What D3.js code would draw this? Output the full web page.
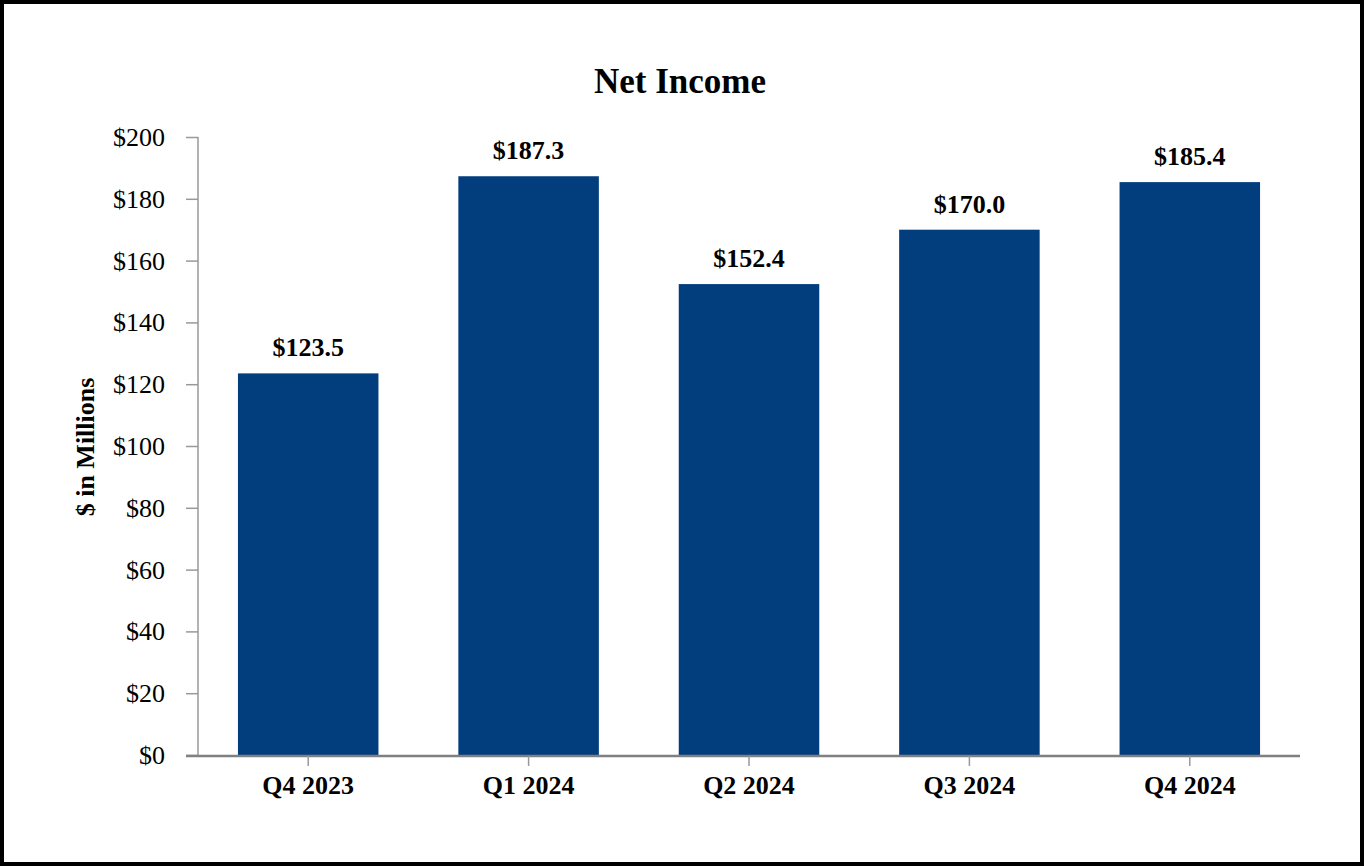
<!DOCTYPE html>
<html>
<head>
<meta charset="utf-8">
<script src="https://cdn.jsdelivr.net/npm/d3@7"></script>
<style>
html,body{margin:0;padding:0;background:#fff;}
svg{display:block;}
text{font-family:"Liberation Serif","Times New Roman",serif;fill:#000;}
</style>
</head>
<body>
<svg id="chart" width="1364" height="866"></svg>
<script>
const categories = ["Q4 2023","Q1 2024","Q2 2024","Q3 2024","Q4 2024"];
const values = [123.5, 187.3, 152.4, 170.0, 185.4];
const valueLabels = ["$123.5","$187.3","$152.4","$170.0","$185.4"];
const yTicks = [0,20,40,60,80,100,120,140,160,180,200];
const title = "Net Income";
const yTitle = "$ in Millions";

const svg = d3.select("#chart");
const W = 1364, H = 866;

svg.append("rect").attr("x",2).attr("y",2).attr("width",W-4).attr("height",H-4)
  .attr("fill","#fff").attr("stroke","#000").attr("stroke-width",4);

const x = d3.scaleBand().domain(categories).range([198,1300])
  .paddingInner(0.3625).paddingOuter(0.18125);
const y = d3.scaleLinear().domain([0,200]).range([755,137]);

// bars
svg.append("g").selectAll("rect").data(values).join("rect")
  .attr("x",(d,i)=>x(categories[i]))
  .attr("y",d=>y(d))
  .attr("width",x.bandwidth())
  .attr("height",d=>y(0)-y(d))
  .attr("fill","#023e7d");

// y axis
const yAxis = d3.axisLeft(y).tickValues(yTicks).tickSize(12).tickPadding(21)
  .tickFormat(d=>"$"+d);
const gy = svg.append("g").attr("transform","translate(198,0)").call(yAxis);
gy.select(".domain").attr("stroke","#999").attr("stroke-width",1.5).attr("d","M0,755V137");
gy.selectAll(".tick line").attr("stroke","#999").attr("stroke-width",1.5);
gy.selectAll(".tick text").style("font-family",'"Liberation Serif","Times New Roman",serif')
  .style("font-size","26px").attr("fill","#000").attr("dy","0.33em");

// x axis
const xAxis = d3.axisBottom(x).tickSize(10).tickPadding(10).tickSizeOuter(0);
const gx = svg.append("g").attr("transform","translate(0,756)").call(xAxis);
gx.select(".domain").attr("stroke","#808080").attr("stroke-width",2.5).attr("d","M186,0H1300");
gx.selectAll(".tick line").attr("stroke","#999").attr("stroke-width",1.5);
gx.selectAll(".tick text").style("font-family",'"Liberation Serif","Times New Roman",serif')
  .style("font-size","26px").style("font-weight","bold").attr("fill","#000").attr("dy","0.71em");

// value labels
svg.append("g").selectAll("text").data(values).join("text")
  .attr("x",(d,i)=>x(categories[i])+x.bandwidth()/2)
  .attr("y",d=>y(d)-17)
  .attr("text-anchor","middle")
  .style("font-size","26px").style("font-weight","bold")
  .text((d,i)=>valueLabels[i]);

// title
svg.append("text").attr("x",680).attr("y",93).attr("text-anchor","middle")
  .style("font-size","35px").style("font-weight","bold").text(title);

// y title
svg.append("text").attr("transform","translate(94,447) rotate(-90)")
  .attr("text-anchor","middle").style("font-size","26px").style("font-weight","bold")
  .text(yTitle);
</script>
</body>
</html>
